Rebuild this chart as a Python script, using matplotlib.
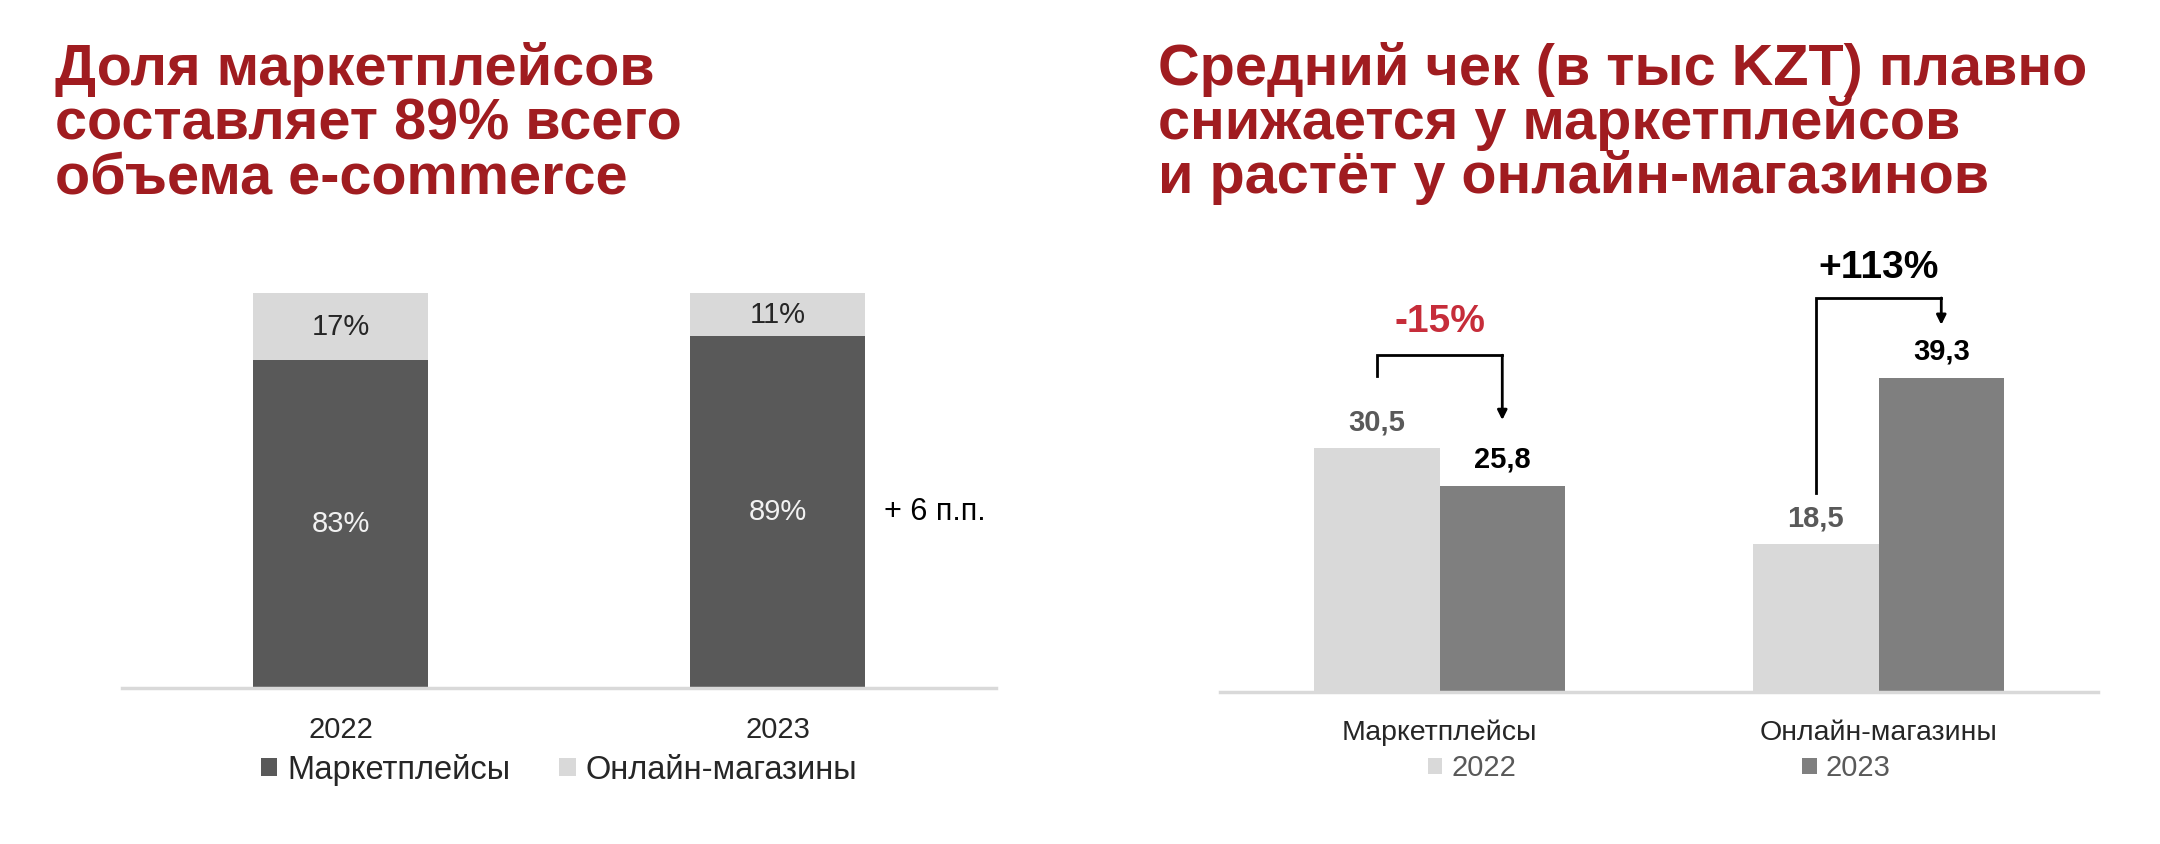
import matplotlib
matplotlib.use("Agg")
import matplotlib.pyplot as plt

plt.rcParams['font.family'] = ['Liberation Sans', 'DejaVu Sans']

# left chart: share of e-commerce volume, %
years = ["2022", "2023"]
share_market = [83, 89]
share_online = [17, 11]
share_note = "+ 6 п.п."

# right chart: average check, thousand KZT
groups = ["Маркетплейсы", "Онлайн-магазины"]
check_2022 = [30.5, 18.5]
check_2023 = [25.8, 39.3]
change_labels = ["-15%", "+113%"]

title_left = ["Доля маркетплейсов", "составляет 89% всего", "объема e-commerce"]
title_right = ["Средний чек (в тыс KZT) плавно", "снижается у маркетплейсов",
               "и растёт у онлайн-магазинов"]

W, H = 2160, 844
RED = "#a01c20"
DARK = "#595959"
LIGHT = "#d9d9d9"
MID = "#7f7f7f"


def fx(x):
    return x / W


def fy(y):
    return 1 - y / H


fig = plt.figure(figsize=(21.6, 8.44), dpi=100)
fig.patch.set_facecolor("white")

# titles
for i, line in enumerate(title_left):
    fig.text(fx(55), fy(85 + 54 * i), line, color=RED, fontsize=41.5,
             fontweight="bold", va="baseline", ha="left")
for i, line in enumerate(title_right):
    fig.text(fx(1158), fy(85 + 54 * i), line, color=RED, fontsize=41.5,
             fontweight="bold", va="baseline", ha="left")

# ---- left: stacked bars
ax1 = fig.add_axes([fx(122), fy(688), 874 / W, 395 / H])
x = range(len(years))
b1 = ax1.bar(x, share_market, width=0.4, color=DARK, label="Маркетплейсы")
b2 = ax1.bar(x, share_online, width=0.4, bottom=share_market, color=LIGHT,
             label="Онлайн-магазины")
ax1.set_xlim(-0.5, 1.5)
ax1.set_ylim(0, 100)
for i in x:
    ax1.text(i, share_market[i] / 2, f"{share_market[i]}%", ha="center",
             va="center", fontsize=21, color="#f2f2f2")
    ax1.text(i, share_market[i] + share_online[i] / 2, f"{share_online[i]}%",
             ha="center", va="center", fontsize=21, color="#262626")
ax1.annotate(share_note, xy=(1 + 0.2, share_market[1] / 2),
             xytext=(14, 0), textcoords="offset points", ha="left",
             va="center", fontsize=22, color="black")
ax1.set_xticks(list(x))
ax1.set_xticklabels(years, fontsize=21, color="#262626")
ax1.tick_params(axis="x", length=0, pad=20)
ax1.set_yticks([])
for s in ["top", "right", "left"]:
    ax1.spines[s].set_visible(False)
ax1.spines["bottom"].set_color(LIGHT)
ax1.spines["bottom"].set_linewidth(2.5)
ax1.legend(handles=[b1, b2], loc="upper center", bbox_to_anchor=(0.5, -0.092),
           ncol=2, frameon=False, fontsize=23.5, handlelength=0.5,
           handleheight=0.5, handletextpad=0.3, columnspacing=1.5,
           labelcolor="#262626")

# ---- right: grouped bars
ax2 = fig.add_axes([fx(1220), fy(692), 878 / W, 360 / H])
w = 0.286
xs = range(len(groups))
r1 = ax2.bar([i - w / 2 for i in xs], check_2022, width=w, color=LIGHT, label="2022")
r2 = ax2.bar([i + w / 2 for i in xs], check_2023, width=w, color=MID, label="2023")
ax2.set_xlim(-0.5, 1.5)
ax2.set_ylim(0, 45)
for i in xs:
    ax2.annotate(f"{check_2022[i]:.1f}".replace(".", ","), xy=(i - w / 2, check_2022[i]),
                 xytext=(0, 18.7), textcoords="offset points", ha="center",
                 va="center", fontsize=21, fontweight="bold", color=DARK)
    ax2.annotate(f"{check_2023[i]:.1f}".replace(".", ","), xy=(i + w / 2, check_2023[i]),
                 xytext=(0, 18.7), textcoords="offset points", ha="center",
                 va="center", fontsize=21, fontweight="bold", color="black")

# brackets with arrows
brackets = [
    # (group, start above 2022 bar, top level, arrow end above 2023 bar, text y, colour)
    (0, 9.0, 42.1, 8.2, 46.25, "#c62d3a"),
    (1, 6.4, 49.25, 6.6, 53.0, "black"),
]
for g, start, top, end, ty, col in brackets:
    xl, xr = g - w / 2, g + w / 2
    ax2.plot([xl, xl, xr], [check_2022[g] + start, top, top], color="black",
             lw=2, clip_on=False, solid_joinstyle="miter")
    ax2.annotate("", xy=(xr, check_2023[g] + end), xytext=(xr, top),
                 arrowprops=dict(arrowstyle="-|>", lw=2, color="black",
                                 mutation_scale=14, shrinkA=0, shrinkB=0),
                 annotation_clip=False)
    ax2.text(g, ty, change_labels[g], ha="center", va="center", fontsize=28,
             fontweight="bold", color=col)

ax2.set_xticks(list(xs))
ax2.set_xticklabels(groups, fontsize=20.5, color="#262626")
ax2.tick_params(axis="x", length=0, pad=20)
ax2.set_yticks([])
for s in ["top", "right", "left"]:
    ax2.spines[s].set_visible(False)
ax2.spines["bottom"].set_color(LIGHT)
ax2.spines["bottom"].set_linewidth(2.5)
ax2.legend(handles=[r1, r2], loc="upper center", bbox_to_anchor=(0.5, -0.10),
           ncol=2, frameon=False, fontsize=21, handlelength=0.5,
           handleheight=0.5, handletextpad=0.3, columnspacing=9.8,
           labelcolor="#595959")

fig.savefig("out.png", dpi=100, facecolor="white")
